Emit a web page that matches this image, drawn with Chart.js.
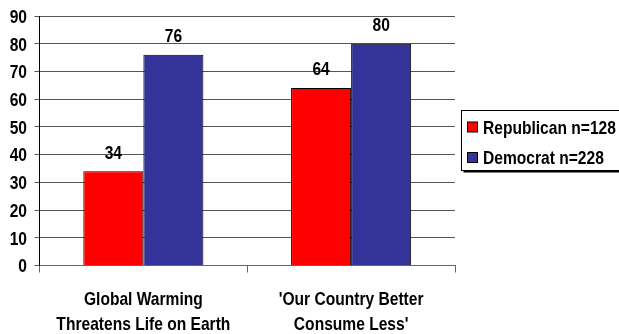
<!DOCTYPE html>
<html>
<head>
<meta charset="utf-8">
<script src="https://cdn.jsdelivr.net/npm/chart.js@4"></script>
<style>
  html, body { margin: 0; padding: 0; background: #fff; }
  #wrap { width: 619px; height: 334px; }
</style>
</head>
<body>
<div id="wrap"><canvas id="c" width="619" height="334"></canvas></div>
<script>
const categories = [
  ['Global Warming', 'Threatens Life on Earth'],
  ["'Our Country Better", "Consume Less'"]
];
const seriesNames = ['Republican n=128', 'Democrat n=228'];
const republican = [34, 64];
const democrat = [76, 80];
const yTicks = [0, 10, 20, 30, 40, 50, 60, 70, 80, 90];

const FONT = 'bold 19px "Liberation Sans", Arial, sans-serif';
const SX = 0.82;          // horizontal squeeze for the tall, narrow lettering
const CAP_MID = 6.8;      // baseline offset from the middle of capital letters

// Draws one line of narrow bold text, vertically centred on cy (cap height)
function narrowText(ctx, text, x, cy, align) {
  ctx.save();
  ctx.translate(x, cy + CAP_MID);
  ctx.scale(SX, 1);
  ctx.font = FONT;
  ctx.fillStyle = '#000';
  ctx.textAlign = align;
  ctx.textBaseline = 'alphabetic';
  ctx.fillText(text, 0, 0);
  ctx.restore();
}

// Axis tick labels, placed through the chart's own scales
const axisLabels = {
  id: 'axisLabels',
  afterDraw(chart) {
    const ctx = chart.ctx;
    const y = chart.scales.y, x = chart.scales.x;
    yTicks.forEach(v => narrowText(ctx, String(v), 27, y.getPixelForValue(v), 'right'));
    chart.data.labels.forEach((lines, i) => {
      const cx = x.getPixelForValue(i);
      lines.forEach((t, k) => narrowText(ctx, t, cx, 298.5 + k * 24.5, 'center'));
    });
  }
};

// Value labels above each bar
const valueLabels = {
  id: 'valueLabels',
  afterDatasetsDraw(chart) {
    chart.data.datasets.forEach((ds, di) => {
      chart.getDatasetMeta(di).data.forEach((bar, i) => {
        narrowText(chart.ctx, String(ds.data[i]), bar.x, bar.y - 19.5, 'center');
      });
    });
  }
};

// Boxed legend on the right side
const boxLegend = {
  id: 'boxLegend',
  afterDraw(chart) {
    const ctx = chart.ctx;
    const x = 461.5, y = 110.5, w = 170, h = 60;
    ctx.save();
    ctx.fillStyle = '#000';
    ctx.fillRect(x + 2, y + h, w, 2);
    ctx.fillStyle = '#fff';
    ctx.fillRect(x, y, w, h);
    ctx.strokeStyle = '#000';
    ctx.lineWidth = 1;
    ctx.strokeRect(x, y, w, h);
    const rows = [127, 157.5];
    chart.data.datasets.forEach((ds, i) => {
      const cy = rows[i];
      ctx.fillStyle = ds.backgroundColor;
      ctx.fillRect(467.5, cy - 5, 10, 10);
      ctx.strokeStyle = '#000';
      ctx.strokeRect(467.5, cy - 5, 10, 10);
      narrowText(ctx, ds.label, 483, cy, 'left');
    });
    ctx.restore();
  }
};

new Chart(document.getElementById('c'), {
  type: 'bar',
  data: {
    labels: categories,
    datasets: [
      { label: seriesNames[0], data: republican, backgroundColor: '#FF0000', borderColor: '#000', borderWidth: 1 },
      { label: seriesNames[1], data: democrat, backgroundColor: '#333399', borderColor: '#000', borderWidth: 1 }
    ]
  },
  options: {
    responsive: false,
    animation: false,
    layout: { padding: { left: 0, right: 164, top: 16, bottom: 0 } },
    plugins: { legend: { display: false }, tooltip: { enabled: false } },
    datasets: { bar: { categoryPercentage: 0.578, barPercentage: 1.0 } },
    scales: {
      x: {
        offset: true,
        grid: { display: true, offset: true, drawOnChartArea: false, color: '#666', tickLength: 7 },
        border: { display: true, color: '#666', width: 1 },
        ticks: { display: false },
        afterFit(scale) { scale.height = 68.5; }
      },
      y: {
        min: 0,
        max: 90,
        afterBuildTicks(scale) { scale.ticks = yTicks.map(v => ({ value: v })); },
        grid: { color: '#555', tickLength: 5 },
        border: { display: true, color: '#000', width: 1 },
        ticks: { display: false },
        afterFit(scale) { scale.width = 39.5; }
      }
    }
  },
  plugins: [valueLabels, axisLabels, boxLegend]
});
</script>
</body>
</html>
